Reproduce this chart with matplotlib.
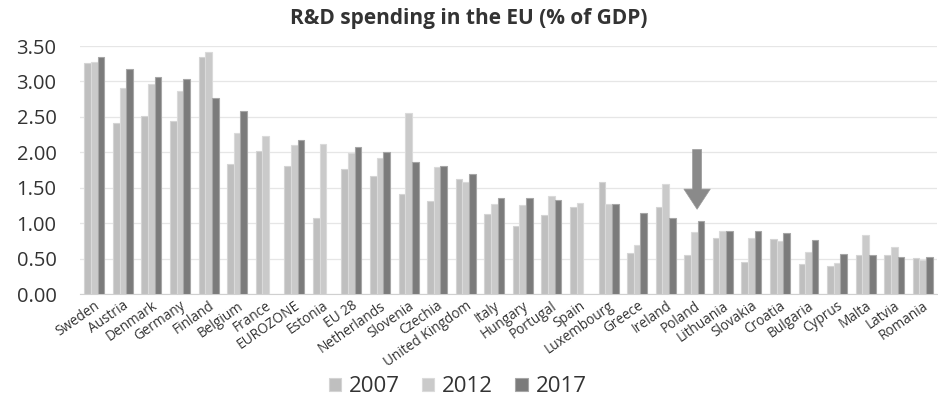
import matplotlib
matplotlib.use("Agg")
import matplotlib.pyplot as plt
import numpy as np

countries = ["Sweden", "Austria", "Denmark", "Germany", "Finland", "Belgium", "France",
             "EUROZONE", "Estonia", "EU 28", "Netherlands", "Slovenia", "Czechia",
             "United Kingdom", "Italy", "Hungary", "Portugal", "Spain", "Luxembourg",
             "Greece", "Ireland", "Poland", "Lithuania", "Slovakia", "Croatia",
             "Bulgaria", "Cyprus", "Malta", "Latvia", "Romania"]
v2007 = [3.26, 2.41, 2.51, 2.45, 3.35, 1.84, 2.02, 1.81, 1.07, 1.77, 1.67, 1.42, 1.31,
         1.62, 1.13, 0.96, 1.12, 1.23, 1.59, 0.58, 1.23, 0.55, 0.80, 0.45, 0.78,
         0.43, 0.40, 0.55, 0.55, 0.51]
v2012 = [3.28, 2.91, 2.97, 2.87, 3.42, 2.27, 2.23, 2.10, 2.12, 1.99, 1.92, 2.56, 1.79,
         1.59, 1.27, 1.26, 1.38, 1.29, 1.27, 0.70, 1.56, 0.88, 0.89, 0.80, 0.75,
         0.60, 0.44, 0.83, 0.66, 0.48]
v2017 = [3.34, 3.17, 3.07, 3.03, 2.77, 2.59, np.nan, 2.18, np.nan, 2.08, 2.00, 1.87, 1.81,
         1.69, 1.36, 1.36, 1.33, np.nan, 1.27, 1.14, 1.07, 1.04, 0.89, 0.89, 0.87,
         0.77, 0.57, 0.56, 0.53, 0.52]
years = ["2007", "2012", "2017"]
yticks = [0.0, 0.5, 1.0, 1.5, 2.0, 2.5, 3.0, 3.5]

plt.rcParams['font.family'] = ['Open Sans', 'DejaVu Sans']
txt = '#333333'

fig = plt.figure(figsize=(9.38, 3.96), dpi=100)
ax = fig.add_axes([0.0853, 0.2568, 0.9137, 0.627])

x = np.arange(len(countries))
w = 0.233
series = [v2007, v2012, v2017]
faces = ['#bfbfbf', '#cacaca', '#7b7b7b']
edges = ['#d4d4d4', '#dadada', '#a6a6a6']
for i, (vals, fc, ec, lab) in enumerate(zip(series, faces, edges, years)):
    ax.bar(x + (i - 1) * w, vals, width=w, color=fc, edgecolor=ec, linewidth=0.8,
           label=lab, zorder=3)

ax.set_xlim(-0.5, len(countries) - 0.5)
ax.set_ylim(0, 3.5)
ax.set_yticks(yticks)
ax.set_yticklabels([f"{t:.2f}" for t in yticks], fontsize=14.5, color=txt)
ax.yaxis.grid(True, color='#e6e6e6', linewidth=0.9, zorder=0)
ax.set_axisbelow(True)
for s in ['top', 'right', 'left']:
    ax.spines[s].set_visible(False)
ax.spines['bottom'].set_color('#d0d0d0')
ax.tick_params(axis='y', length=0, pad=17)
ax.tick_params(axis='x', length=0, pad=3)
ax.set_xticks(x)
ax.set_xticklabels(countries, rotation=35, ha='right', rotation_mode='anchor',
                   fontsize=9.8, color=txt)

fig.text(0.5, 0.953, "R&D spending in the EU (% of GDP)", ha='center', va='center',
         fontsize=15, fontweight='bold', color=txt)

# arrow pointing at Poland
ax.annotate("", xy=(21.1, 1.16), xytext=(21.1, 2.08),
            arrowprops=dict(arrowstyle="simple,head_length=1.45,head_width=1.9,tail_width=0.65",
                            mutation_scale=10, facecolor='#8a8a8a', edgecolor='#9a9a9a',
                            linewidth=0.5),
            zorder=5)

leg = fig.legend(loc='center', bbox_to_anchor=(0.488, 0.023), ncol=3, frameon=False,
                 fontsize=16, handlelength=0.55, handleheight=0.55, handletextpad=0.35,
                 columnspacing=1.0)
for t in leg.get_texts():
    t.set_color(txt)

fig.savefig("out.png", dpi=100)
